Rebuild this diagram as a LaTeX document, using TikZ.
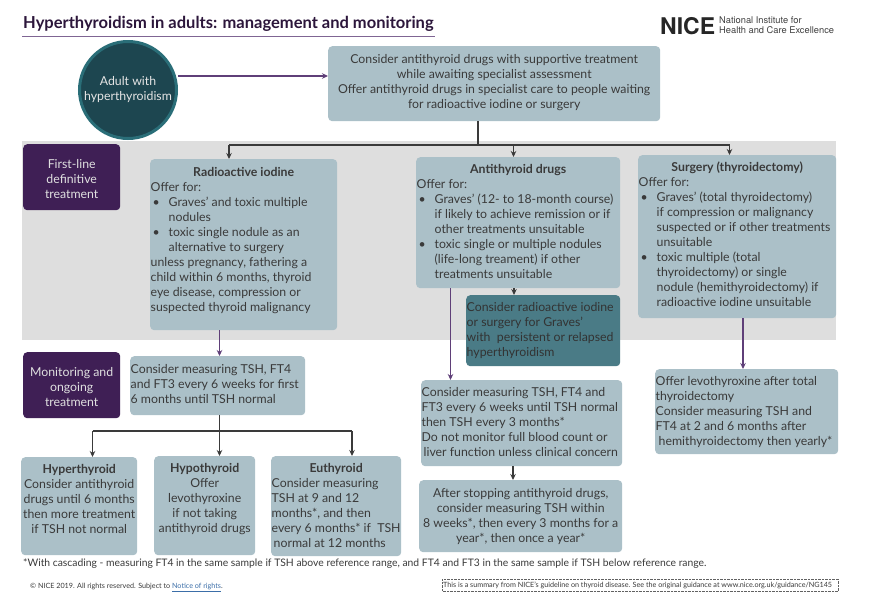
\documentclass[tikz,border=0pt]{standalone}
\usepackage{fontspec}
\setmainfont{Lato}
\newfontfamily\helv{TeX Gyre Heros}
\usetikzlibrary{arrows.meta}
\definecolor{boxc}{HTML}{ABC0C8}
\definecolor{tealc}{HTML}{4A7B86}
\definecolor{purp}{HTML}{3F1F55}
\definecolor{purl}{HTML}{5F3F78}
\definecolor{inkc}{HTML}{3A3A3A}
\definecolor{bandc}{HTML}{DEDEDE}
\definecolor{circc}{HTML}{1D4650}
\definecolor{circb}{HTML}{2A6E78}
\definecolor{linkc}{HTML}{3B6EA8}
\tikzset{
  x=1pt,y=-1pt,
  boxn/.style={fill=boxc,rounded corners=4pt,inner sep=0pt,anchor=north west,text=inkc},
  tealn/.style={boxn,fill=tealc,text=black!80},
  purn/.style={boxn,fill=purp,text=white!88!black},
  larrow/.style={line width=1.2pt,draw=inkc,-{Stealth[length=6pt,width=5.5pt]}},
  tree/.style={line width=1.2pt,draw=inkc},
  parrow/.style={line width=1.1pt,draw=purl,-{Stealth[length=6pt,width=5.5pt]}},
}
\newcommand\bodyf{\fontsize{12.3}{15}\selectfont}
\newcommand\bx[8][boxn]{%
  \pgfmathsetlengthmacro\bw{#5-#3}%
  \pgfmathsetlengthmacro\bh{#6-#4}%
  \node[#1] (#2) at (#3,#4) {\parbox[c][\bh][t]{\bw}{\bodyf\leftskip=0.5pt\rightskip=0pt plus 1fil\parindent=0pt\parfillskip=0pt plus 1fil\vspace*{#7}\strut #8}};%
}
\newcommand\bulz[1]{\par\leftskip=18.5pt\leavevmode\llap{\hbox to 16pt{\textbullet\hss}}#1\par\leftskip=0.5pt}
\newcommand\tit[1]{{\bfseries #1}}
\begin{document}
\begin{tikzpicture}
\useasboundingbox (0,0) rectangle (870,600);
\fill[white] (0,0) rectangle (870,600);
\fill[bandc] (22,141) rectangle (836,340);
% header
\node[anchor=base west,inner sep=0pt,text=purp!70!black] (title) at (23,28) {\fontsize{16.5}{20}\selectfont\bfseries Hyperthyroidism in adults: management and monitoring};
\draw[purl!80,line width=0.8pt] (22,36.5) -- (435,36.5);
\node[anchor=base west,inner sep=0pt,text=black!85] (nice) at (660,34) {\helv\fontsize{23}{24}\selectfont\bfseries NICE};
\node[anchor=north west,inner sep=0pt,align=left,text=black!75,font=\helv\fontsize{9.3}{9.6}\selectfont] (niceb) at (719,16.5) {National Institute for\\Health and Care Excellence};
% start
\node[circle,fill=circc,draw=circb,line width=3pt,minimum size=97pt,inner sep=0pt,align=center,text=white!90!black,font=\fontsize{12.3}{15}\selectfont] (adult) at (128,90) {Adult with\\hyperthyroidism};
\bx{top}{328}{46}{660}{121}{6.5pt}{\centering Consider antithyroid drugs with supportive treatment\\while awaiting specialist assessment\\Offer antithyroid drugs in specialist care to people waiting\\for radioactive iodine or surgery}
\bx[purn]{first}{23}{144}{120}{210}{14pt}{\centering First-line\\definitive\\treatment}
\bx[purn]{mon}{23}{352}{120}{418}{14pt}{\centering Monitoring and\\ongoing\\treatment}
% first-line
\bx{rad}{150}{159}{337}{330}{6.5pt}{{\centering\tit{Radioactive iodine}\par}
Offer for:
\bulz{Graves' and toxic multiple\\nodules}
\bulz{toxic single nodule as an\\alternative to surgery}
unless pregnancy, fathering a\\child within 6 months, thyroid\\eye disease, compression or\\suspected thyroid malignancy}
\bx{anti}{416}{157}{620}{288}{5.5pt}{{\centering\tit{Antithyroid drugs}\par}
Offer for:
\bulz{Graves' (12- to 18-month course)\\if likely to achieve remission or if\\other treatments unsuitable}
\bulz{toxic single or multiple nodules\\(life-long treament) if other\\treatments unsuitable}}
\bx{surg}{638}{155}{836}{318}{6pt}{{\centering\tit{Surgery (thyroidectomy)}\par}
Offer for:
\bulz{Graves' (total thyroidectomy)\\if compression or malignancy\\suspected or if other treatments\\unsuitable}
\bulz{toxic multiple (total\\thyroidectomy) or single\\nodule (hemithyroidectomy) if\\radioactive iodine unsuitable}}
\bx[tealn]{tealb}{466}{295}{620}{366}{6pt}{Consider radioactive iodine\\or surgery for Graves'\\with\ \ persistent or relapsed\\hyperthyroidism}
% monitoring
\bx{mleft}{130}{356}{305}{415}{6.5pt}{Consider measuring TSH, FT4\\and FT3 every 6 weeks for first\\6 months until TSH normal}
\bx{hyper}{21}{457}{137}{555}{5.5pt}{\centering\tit{Hyperthyroid}\\Consider antithyroid\\drugs until 6 months\\then more treatment\\if TSH not normal}
\bx{hypo}{154}{456}{255}{555}{5.5pt}{\centering\tit{Hypothyroid}\\Offer\\levothyroxine\\if not taking\\antithyroid drugs}
\bx{euth}{271}{456}{401}{556}{5.5pt}{{\centering\tit{Euthyroid}\par}
Consider measuring\\TSH at 9 and 12\\months*, and then\\every 6 months* if\ \ TSH\\\hspace*{2pt}normal at 12 months}
\bx{mmid}{421}{380}{622}{466}{6pt}{Consider measuring TSH, FT4 and\\FT3 every 6 weeks until TSH normal\\then TSH every 3 months*\\Do not monitor full blood count or\\\hspace*{2pt}liver function unless clinical concern}
\bx{stop}{419}{480}{622}{552}{6.5pt}{\centering After stopping antithyroid drugs,\\consider measuring TSH within\\8 weeks*, then every 3 months for a\\year*, then once a year*}
\bx{mright}{655}{369}{838}{454}{5.5pt}{Offer levothyroxine after total\\thyroidectomy\\Consider measuring TSH and\\FT4 at 2 and 6 months after\\\hspace*{3pt}hemithyroidectomy then yearly*}
% footer
\node[anchor=base west,inner sep=0pt,text=inkc] (fnote) at (23,566.5) {\fontsize{10.35}{12}\selectfont *With cascading - measuring FT4 in the same sample if TSH above reference range, and FT4 and FT3 in the same sample if TSH below reference range.};
\node[anchor=base west,inner sep=0pt,text=inkc] (copy) at (30,588) {\fontsize{7.2}{8}\selectfont © NICE 2019. All rights reserved. Subject to \textcolor{linkc}{\underline{Notice of rights}}.};
\draw[draw=inkc!80,densely dotted,line width=0.4pt] (442,579) rectangle (838.5,591);
\node[anchor=west,inner sep=0pt,text=inkc] (summ) at (443,585) {\fontsize{7.2}{8}\selectfont This is a summary from NICE's guideline on thyroid disease. See the original guidance at www.nice.org.uk/guidance/NG145};
% connectors
\coordinate (tap) at (478,145);
\coordinate (xrad) at (229,145);
\coordinate (xanti) at (513.5,145);
\coordinate (xsurg) at (729.5,145);
\coordinate (xpan) at (450.5,300);
\coordinate (xteal) at (514,290);
\coordinate (xr) at (219.5,431);
\coordinate (xh) at (92.5,431);
\coordinate (xe) at (352,431);
\coordinate (xsr) at (743,340);
\coordinate (xm) at (513,470);
\coordinate (ya) at (0,76);
\draw[parrow] (adult.east |- ya) -- (top.west |- ya);
\draw[tree] (top.south -| tap) -- (tap);
\draw[tree] (xrad) -- (xsurg);
\draw[larrow] (xrad) -- (rad.north -| xrad);
\draw[larrow] (xanti) -- (anti.north -| xanti);
\draw[larrow] (xsurg) -- (surg.north -| xsurg);
\draw[larrow] (anti.south -| xteal) -- (tealb.north -| xteal);
\draw[parrow] (anti.south -| xpan) -- (mmid.north -| xpan);
\draw[parrow] (rad.south -| xr) -- (mleft.north -| xr);
\draw[parrow] (surg.south -| xsr) -- (mright.north -| xsr);
\draw[larrow] (mleft.south -| xr) -- (hypo.north -| xr);
\draw[tree] (xh) -- (xe);
\draw[larrow] (xh) -- (hyper.north -| xh);
\draw[larrow] (xe) -- (euth.north -| xe);
\draw[larrow] (mmid.south -| xm) -- (stop.north -| xm);
\end{tikzpicture}
\end{document}
